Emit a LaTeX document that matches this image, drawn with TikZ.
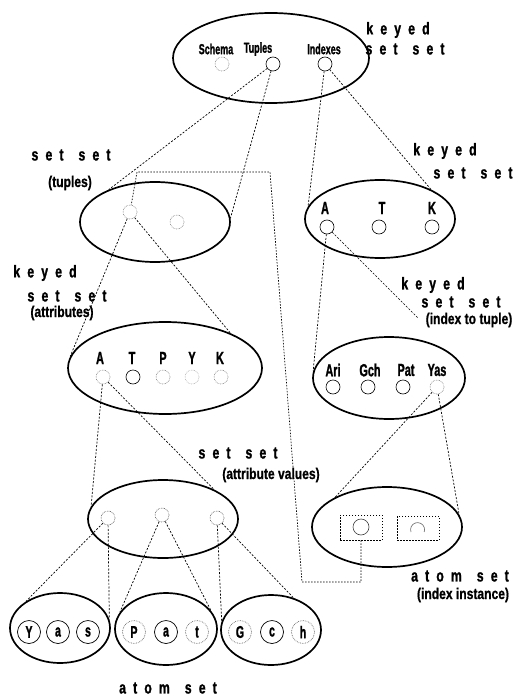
\documentclass[tikz,border=0pt]{standalone}
\usepackage{fontspec}
\usetikzlibrary{shapes.geometric}
\newfontfamily\labfont{Liberation Sans Bold}[FakeStretch=0.62, FakeBold=1.2]
\newfontfamily\parfont{Liberation Sans Bold}[FakeStretch=0.78, FakeBold=0.8]
\newfontfamily\spfont{Liberation Sans Bold}[FakeStretch=0.72, FakeBold=1.2, LetterSpace=42]
\newcommand{\wgap}{\hspace{15pt}}
\begin{document}
\begin{tikzpicture}[x=1pt, y=-1pt,
  bigell/.style={draw, ellipse, line width=1.7pt, inner sep=0pt},
  dot/.style={draw, circle, minimum size=14pt, inner sep=0pt, line width=0.6pt},
  faint/.style={dot, densely dotted, draw=black!55},
  atomc/.style={draw, circle, minimum size=23pt, inner sep=0pt, line width=0.7pt,
    font=\labfont\fontsize{17}{17}\selectfont},
  faintatom/.style={atomc, densely dotted, draw=black!60},
  link/.style={line width=0.7pt, dash pattern=on 2pt off 1.6pt},
  small/.style={inner sep=0pt, font=\labfont\fontsize{14.5}{14.5}\selectfont},
  key/.style={inner sep=0pt, font=\labfont\fontsize{17.5}{17.5}\selectfont},
  paren/.style={inner sep=0pt, font=\parfont\fontsize{15.5}{15.5}\selectfont},
  spaced/.style={inner sep=0pt, font=\spfont\fontsize{17}{17}\selectfont},
  instbox/.style={draw, line width=0.6pt, dash pattern=on 1.5pt off 1.5pt, inner sep=0pt}
]
\useasboundingbox (0,0) rectangle (522,698);

% ---------- schema: keyed set set ----------
\node[bigell, minimum width=196pt, minimum height=90pt] (root) at (271,58) {};
\node[small] at (216,49) {Schema};
\node[small] at (258,49) {Tuples};
\node[small] at (324,49) {Indexes};
\node[faint] (sch) at (222,64) {};
\node[dot] (tupc) at (273,64) {};
\node[dot] (idxc) at (325,64) {};
\node[spaced] at (398,30) {keyed};
\node[spaced] at (405,49) {set\wgap set};

% ---------- tuples: set set ----------
\node[bigell, minimum width=150pt, minimum height=80pt] (tuples) at (155,222) {};
\node[faint] (tc1) at (130,212) {};
\node[faint] (tc2) at (177,222) {};
\node[spaced] at (71,155) {set\wgap set};
\node[paren] at (70,183) {(tuples)};

% ---------- indexes: keyed set set ----------
\node[bigell, minimum width=150pt, minimum height=78pt] (indexes) at (380,219) {};
\node[key] at (325,208) {A};
\node[key] at (382,208) {T};
\node[key] at (432,208) {K};
\node[dot] (ia) at (327,227) {};
\node[dot] (it) at (379,227) {};
\node[dot] (ik) at (432,227) {};
\node[spaced] at (445,151) {keyed};
\node[spaced] at (473,173) {set\wgap set};

% ---------- attributes: keyed set set ----------
\node[bigell, minimum width=194pt, minimum height=92pt] (attrs) at (165,368) {};
\node[key] at (100,358) {A};
\node[key] at (132,358) {T};
\node[key] at (163,358) {P};
\node[key] at (192,358) {Y};
\node[key] at (220,358) {K};
\node[faint] (aa) at (103,377) {};
\node[dot] (at) at (133,377) {};
\node[faint] (ap) at (163,377) {};
\node[faint, draw=black!35] (ay) at (192,377) {};
\node[faint] (ak) at (221,377) {};
\node[spaced] at (45,273) {keyed};
\node[spaced] at (67,296) {set\wgap set};
\node[paren] at (62,313) {(attributes)};

% ---------- index to tuple: keyed set set ----------
\node[bigell, minimum width=152pt, minimum height=82pt] (itt) at (389,378) {};
\node[key] at (333,370) {Ari};
\node[key] at (370,370) {Gch};
\node[key] at (406,370) {Pat};
\node[key] at (437,370) {Yas};
\node[dot] (xari) at (333,387) {};
\node[dot] (xgch) at (368,387) {};
\node[dot] (xpat) at (403,387) {};
\node[faint] (xyas) at (437,387) {};
\node[spaced] at (433,285) {keyed};
\node[spaced] at (461,302) {set\wgap set};
\node[paren] (ittlbl) at (469,320) {(index to tuple)};

% ---------- attribute values: set set ----------
\node[bigell, minimum width=150pt, minimum height=78pt] (vals) at (163,519) {};
\node[faint, draw=black!75] (v1) at (108,518) {};
\node[faint, draw=black!75] (v2) at (162,515) {};
\node[faint, draw=black!75] (v3) at (217,518) {};
\node[spaced] at (238,453) {set\wgap set};
\node[paren] at (271,475) {(attribute values)};

% ---------- index instance: atom set ----------
\node[bigell, minimum width=150pt, minimum height=80pt] (inst) at (387,527) {};
\node[instbox, minimum width=42pt, minimum height=25pt] (box1) at (361,527.5) {};
\node[instbox, minimum width=42pt, minimum height=24pt] (box2) at (418,528) {};
\draw[line width=0.6pt, black!75] (361,527) circle[radius=8pt];
\draw[line width=0.6pt, black!60] (411,532) arc[start angle=200, end angle=-20, radius=7pt];
\node[spaced] at (460,576) {atom\wgap set};
\node[paren] at (463,595) {(index instance)};

% ---------- atom sets ----------
\node[bigell, minimum width=100pt, minimum height=70pt] (yas) at (60,628) {};
\node[bigell, minimum width=102pt, minimum height=72pt] (pat) at (166,629) {};
\node[bigell, minimum width=100pt, minimum height=70pt] (gch) at (271,630) {};
\node[atomc] at (29,632) {Y};
\node[atomc] at (58,632) {a};
\node[atomc] at (88,632) {s};
\node[faintatom] at (134,632) {P};
\node[atomc] at (166,632) {a};
\node[faintatom] at (197,632) {t};
\node[faintatom] at (240,632) {G};
\node[atomc] at (272,632) {c};
\node[faintatom] at (303,632) {h};
\node[spaced] at (168,688) {atom\wgap set};

% ---------- connectors ----------
\draw[link] (tupc) -- (tuples.145);
\draw[link] (tupc) -- (tuples.3);
\draw[link] (idxc) -- (indexes.170);
\draw[link] (idxc) -- (indexes.30);
\draw[link] (tc1) -- (attrs.173);
\draw[link] (tc1) -- (attrs.28);
\draw[link] (ia) -- (itt.175);
\coordinate (ittend) at (418,318);
\draw[link] (ia) -- (ittend);
\draw[link] (aa) -- (vals.170);
\draw[link] (aa) -- (vals.30);
\draw[link] (xyas) -- (inst.150);
\draw[link] (xyas) -- (inst.10);
\draw[link] (v1) -- (yas.142);
\draw[link] (v1) -- (yas.10);
\draw[link] (v2) -- (pat.160);
\draw[link] (v2) -- (pat.22);
\draw[link] (v3) -- (gch.170);
\draw[link] (v3) -- (gch.55);

% instance entry pointing back to its tuple
\coordinate (p1) at (361,582);
\coordinate (p2) at (302,582);
\coordinate (p3) at (270,172);
\coordinate (p4) at (137,172);
\draw[link, dash pattern=on 1.5pt off 1.5pt] (box1.south) -- (p1) -- (p2) -- (p3) -- (p4) -- (tc1);
\end{tikzpicture}
\end{document}
